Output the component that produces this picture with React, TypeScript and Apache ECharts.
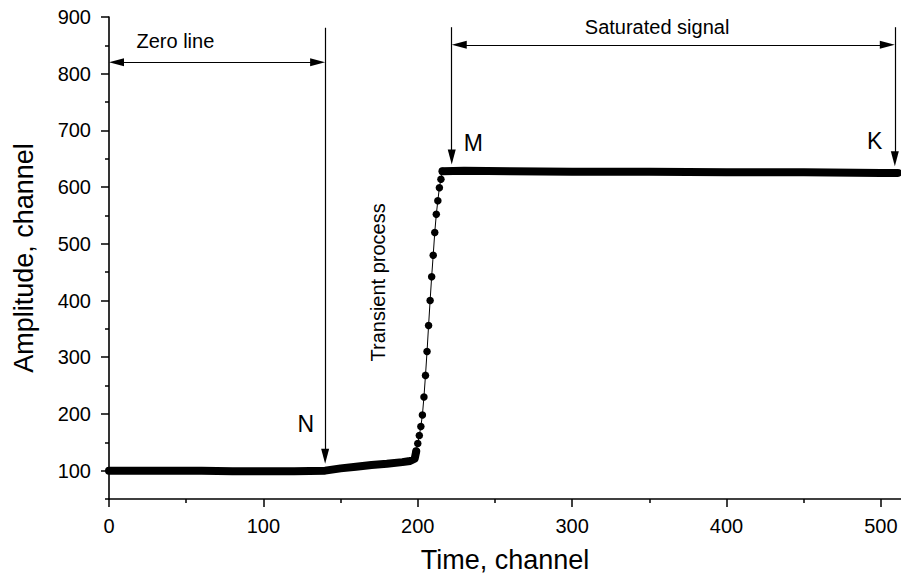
import React, { useEffect, useRef } from "react";
import * as echarts from "echarts";

// ---- axis ticks ----
const xTicks = [0, 100, 200, 300, 400, 500];
const xMinorTicks = [50, 150, 250, 350, 450];
const yTicks = [100, 200, 300, 400, 500, 600, 700, 800, 900];
const yMinorTicks = [50, 150, 250, 350, 450, 550, 650, 750, 850];

// ---- data ----
// zero line + slow rise (dense points drawn as a thick band)
const baseX = [0, 20, 40, 60, 80, 100, 120, 140, 150, 160, 170, 180, 190, 195, 198, 199];
const baseY = [100, 100, 100, 100, 99, 99, 99, 100, 104, 107, 110, 112, 115, 117, 121, 134];
// transient process (individual points)
const transX = [199, 200, 201, 202, 203, 204, 205, 206, 207, 208, 209, 210, 211, 212, 213, 214, 215, 216];
const transY = [134, 148, 162, 178, 198, 230, 268, 310, 356, 400, 442, 480, 520, 552, 576, 599, 614, 628];
// saturated signal (dense points drawn as a thick band)
const satX = [216, 230, 260, 300, 350, 400, 450, 500, 511];
const satY = [628, 629, 628, 627, 627, 626, 626, 625, 625];

// ---- annotations ----
const hArrows = [
  [0, 140, 820],
  [222, 509, 851],
]; // from x, to x, level
const vArrows = [
  [140, 881, 112],
  [222, 882, 640],
  [509, 882, 637],
]; // x, top, tip
const annTexts = ["Zero line", "Saturated signal", "N", "M", "K", "Transient process"];
const annX = [43, 355, 127.5, 236, 496, 174];
const annY = [858, 883, 183, 678, 682, 432];
const annSize = [20, 20, 23, 23, 23, 20];
const annRotate = [0, 0, 0, 0, 0, 90];

const X_MIN = 0;
const X_MAX = 513;
const Y_MIN = 50;
const Y_MAX = 900;
const GRID = { left: 109, right: 0, top: 17, bottom: 77 };
const W = 901;
const H = 578;
const FONT = "'Liberation Sans', Arial, Helvetica, sans-serif";
const ARROW_W = 8;
const ARROW_L = 15;

export default function App() {
  const ref = useRef<HTMLDivElement>(null);
  useEffect(() => {
    if (!ref.current) return;
    const chart = echarts.init(ref.current, null, { renderer: "svg" });
    const pxX = (W - GRID.left - GRID.right) / (X_MAX - X_MIN);
    const pxY = (H - GRID.top - GRID.bottom) / (Y_MAX - Y_MIN);
    const dx = ARROW_L / 2 / pxX;
    const dy = ARROW_L / 2 / pxY;

    const lineStyle = { color: "#000", width: 1.2, type: "solid" as const };
    const markData: any[] = [];
    hArrows.forEach(([a, b, lv]) => {
      markData.push([
        { coord: [a + dx, lv], symbol: "triangle" },
        { coord: [b - dx, lv], symbol: "triangle" },
      ]);
    });
    vArrows.forEach(([x, top, tip]) => {
      markData.push([
        { coord: [x, top], symbol: "none" },
        { coord: [x, tip + dy], symbol: "triangle" },
      ]);
    });

    const annData = annTexts.map((t, i) => ({
      value: [annX[i], annY[i]],
      label: {
        show: true,
        formatter: t,
        position: "inside",
        align: "center",
        verticalAlign: "middle",
        rotate: annRotate[i],
        fontSize: annSize[i],
        color: "#000",
        opacity: 1,
        textBorderWidth: 0,
        textBorderColor: "transparent",
        fontFamily: FONT,
      },
    }));

    const axisLine = { show: true, lineStyle: { color: "#000", width: 1.6 } };
    const tickStyle = { color: "#000", width: 1.5 };

    chart.setOption({
      animation: false,
      backgroundColor: "#fff",
      textStyle: { fontFamily: FONT, color: "#000" },
      grid: GRID,
      xAxis: [
        {
          type: "value",
          min: X_MIN,
          max: X_MAX,
          position: "bottom",
          axisLine,
          axisTick: { show: true, length: 8, lineStyle: tickStyle, customValues: xTicks },
          axisLabel: { show: true, customValues: xTicks, fontSize: 20, color: "#000", margin: 17, fontFamily: FONT },
          splitLine: { show: false },
          name: "Time, channel",
          nameLocation: "middle",
          nameGap: 47,
          nameTextStyle: { fontSize: 27, color: "#000", fontFamily: FONT },
        },
        {
          type: "value",
          min: X_MIN,
          max: X_MAX,
          position: "bottom",
          axisLine: { show: false },
          axisTick: { show: true, length: 4, lineStyle: tickStyle, customValues: xMinorTicks },
          axisLabel: { show: false },
          splitLine: { show: false },
        },
      ],
      yAxis: [
        {
          type: "value",
          min: Y_MIN,
          max: Y_MAX,
          position: "left",
          axisLine,
          axisTick: { show: true, length: 8, lineStyle: tickStyle, customValues: yTicks },
          axisLabel: { show: true, customValues: yTicks, fontSize: 20, color: "#000", margin: 18, fontFamily: FONT },
          splitLine: { show: false },
          name: "Amplitude, channel",
          nameLocation: "middle",
          nameGap: 72,
          nameTextStyle: { fontSize: 27, color: "#000", fontFamily: FONT },
        },
        {
          type: "value",
          min: Y_MIN,
          max: Y_MAX,
          position: "left",
          axisLine: { show: false },
          axisTick: { show: true, length: 4, lineStyle: tickStyle, customValues: yMinorTicks },
          axisLabel: { show: false },
          splitLine: { show: false },
        },
      ],
      series: [
        {
          type: "line",
          data: baseX.map((x, i) => [x, baseY[i]]),
          showSymbol: false,
          symbol: "none",
          lineStyle: { color: "#000", width: 8, cap: "round", join: "round" },
          silent: true,
          z: 2,
        },
        {
          type: "line",
          data: satX.map((x, i) => [x, satY[i]]),
          showSymbol: false,
          symbol: "none",
          lineStyle: { color: "#000", width: 8, cap: "round", join: "round" },
          silent: true,
          z: 2,
        },
        {
          type: "line",
          data: transX.map((x, i) => [x, transY[i]]),
          symbol: "circle",
          showSymbol: true,
          showAllSymbol: true,
          symbolSize: 7.5,
          itemStyle: { color: "#000" },
          lineStyle: { color: "#000", width: 1 },
          silent: true,
          z: 3,
        },
        {
          type: "scatter",
          data: annData,
          symbolSize: 1,
          itemStyle: { color: "rgba(0,0,0,0)" },
          silent: true,
          z: 5,
          markLine: {
            silent: true,
            animation: false,
            symbol: ["triangle", "triangle"],
            symbolSize: [ARROW_W, ARROW_L],
            label: { show: false },
            lineStyle,
            emphasis: { disabled: true },
            data: markData,
          },
        },
      ],
    });
    return () => chart.dispose();
  }, []);
  return (
    <div
      ref={ref}
      style={{ position: "absolute", left: 0, top: 0, width: W, height: H, background: "#fff" }}
    />
  );
}
